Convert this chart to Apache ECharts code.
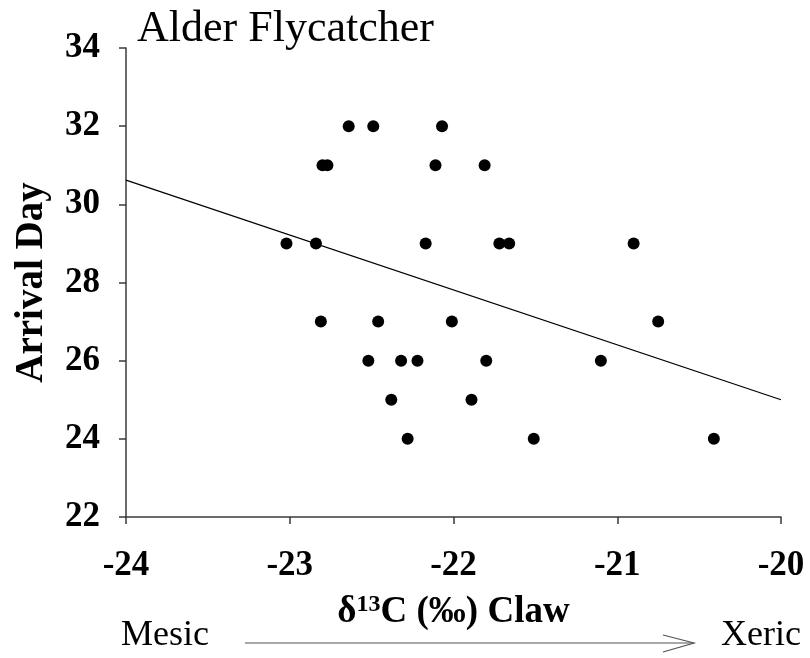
<!DOCTYPE html>
<html>
<head>
<meta charset="utf-8">
<title>Alder Flycatcher</title>
<script src="https://cdn.jsdelivr.net/npm/echarts@6/dist/echarts.min.js"></script>
<style>
  html, body { margin: 0; padding: 0; background: #fff; }
  #chart { width: 810px; height: 658px; }
</style>
</head>
<body>
<div id="chart"></div>
<script>
// Claw δ13C (‰) of each bird and its arrival day
const clawD13C = [
  -23.02, -22.84, -22.81, -22.80, -22.77, -22.64, -22.52, -22.49, -22.46,
  -22.38, -22.32, -22.28, -22.22, -22.17, -22.11, -22.07, -22.01, -21.89,
  -21.81, -21.80, -21.72, -21.66, -21.51, -21.10, -20.90, -20.75, -20.41
];
const arrivalDay = [
  29, 29, 27, 31, 31, 32, 26, 32, 27,
  25, 26, 24, 26, 29, 31, 32, 27, 25,
  31, 26, 29, 29, 24, 26, 29, 27, 24
];
// fitted trend line, end points at the axis limits
const trendX = [-24, -20];
const trendY = [30.62, 25.0];

const xTicks = { min: -24, max: -20, interval: 1 };
const yTicks = { min: 22, max: 34, interval: 2 };

const serif = '"Liberation Serif", "Times New Roman", serif';
const axisColor = '#3a3a3a';

const points = clawD13C.map((x, i) => [x, arrivalDay[i]]);
const trend = trendX.map((x, i) => [x, trendY[i]]);

const chart = echarts.init(document.getElementById('chart'), null, { renderer: 'canvas' });

chart.setOption({
  backgroundColor: '#ffffff',
  animation: false,
  title: {
    text: 'Alder Flycatcher',
    left: 132,
    top: 2,
    textStyle: { fontFamily: serif, fontSize: 44, fontWeight: 'normal', color: '#000' }
  },
  grid: {
    left: 126, right: 29, top: 48, bottom: 141,
    containLabel: false,
    outerBoundsMode: 'none'
  },
  xAxis: {
    type: 'value',
    min: xTicks.min,
    max: xTicks.max,
    interval: xTicks.interval,
    splitLine: { show: false },
    axisLine: { onZero: false, lineStyle: { color: axisColor, width: 1.5 } },
    axisTick: { show: true, inside: false, length: 7, lineStyle: { color: axisColor, width: 1.5 } },
    axisLabel: {
      margin: 31,
      fontFamily: serif, fontSize: 35, fontWeight: 'bold', color: '#000'
    },
    name: '{t|δ}{s|13}{t|C (‰) Claw}',
    nameLocation: 'middle',
    nameGap: 76,
    nameMoveOverlap: false,
    nameTextStyle: {
      rich: {
        t: { fontFamily: serif, fontSize: 37, fontWeight: 'bold', color: '#000', lineHeight: 38 },
        s: { fontFamily: serif, fontSize: 24, fontWeight: 'bold', color: '#000', lineHeight: 38, verticalAlign: 'top', padding: [0, 0, 16, 0] }
      }
    }
  },
  yAxis: {
    type: 'value',
    min: yTicks.min,
    max: yTicks.max,
    interval: yTicks.interval,
    splitLine: { show: false },
    axisLine: { onZero: false, lineStyle: { color: axisColor, width: 1.5 } },
    axisTick: { show: true, inside: false, length: 7, lineStyle: { color: axisColor, width: 1.5 } },
    axisLabel: {
      margin: 26,
      fontFamily: serif, fontSize: 35, fontWeight: 'bold', color: '#000'
    },
    name: 'Arrival Day',
    nameLocation: 'middle',
    nameRotate: 90,
    nameGap: 75,
    nameMoveOverlap: false,
    nameTextStyle: { fontFamily: serif, fontSize: 39, fontWeight: 'bold', color: '#000' }
  },
  series: [
    {
      name: 'Trend',
      type: 'line',
      data: trend,
      showSymbol: false,
      symbol: 'none',
      lineStyle: { color: '#000', width: 1.3 },
      silent: true,
      z: 2
    },
    {
      name: 'Birds',
      type: 'scatter',
      data: points,
      symbol: 'circle',
      symbolSize: 12,
      itemStyle: { color: '#000', opacity: 1 },
      z: 3
    }
  ],
  graphic: [
    {
      type: 'text',
      left: 121,
      top: 618,
      style: { text: 'Mesic', font: 'normal 36px ' + serif, fill: '#000' }
    },
    {
      type: 'text',
      left: 721,
      top: 618,
      style: { text: 'Xeric', font: 'normal 36px ' + serif, fill: '#000' }
    },
    {
      type: 'polyline',
      shape: { points: [[245, 643], [694, 643]] },
      style: { stroke: '#555', lineWidth: 1.2, fill: null }
    },
    {
      type: 'polyline',
      shape: { points: [[663, 635], [694, 643], [663, 652]] },
      style: { stroke: '#555', lineWidth: 1.2, fill: null }
    }
  ]
});
</script>
</body>
</html>
